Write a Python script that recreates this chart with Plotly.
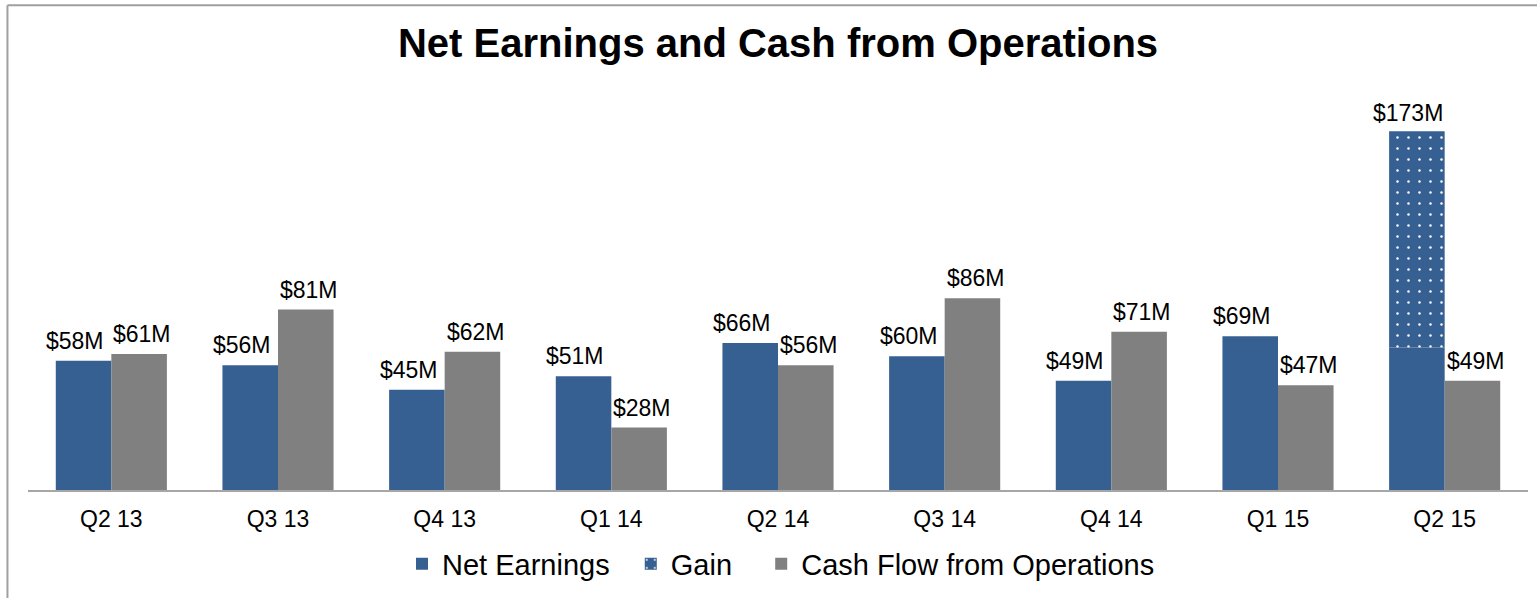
import plotly.graph_objects as go

# quarters on the category axis
quarters = ['Q2 13', 'Q3 13', 'Q4 13', 'Q1 14', 'Q2 14', 'Q3 14', 'Q4 14', 'Q1 15', 'Q2 15']

# $M (Q2 15 split)
net_earnings = [58, 56, 45, 51, 66, 60, 49, 69, 64]
gain = [None, None, None, None, None, None, None, None, 97]
cash_flow = [61, 81, 62, 28, 56, 86, 71, 47, 49]

net_labels = ['$58M', '$56M', '$45M', '$51M', '$66M', '$60M', '$49M', '$69M', '']
gain_labels = ['', '', '', '', '', '', '', '', '$173M']
cash_labels = ['$61M', '$81M', '$62M', '$28M', '$56M', '$86M', '$71M', '$47M', '$49M']

BLUE = '#376092'
GREY = '#808080'
FONT = 'Liberation Sans, Arial, sans-serif'
NB = '\u00a0'  # padding between legend entries

fig = go.Figure()
fig.add_bar(x=quarters, y=net_earnings, name='Net Earnings' + NB * 2, offsetgroup='ne',
            marker=dict(color=BLUE, line=dict(width=0)))
fig.add_bar(x=quarters, y=gain, base=net_earnings, name='Gain' + NB * 3, offsetgroup='ne',
            marker=dict(color=BLUE, line=dict(width=0),
                        pattern=dict(shape='.', fillmode='replace', bgcolor=BLUE,
                                     fgcolor='white', size=11, solidity=0.04)))
fig.add_bar(x=quarters, y=cash_flow, name='Cash Flow from Operations', offsetgroup='cf',
            marker=dict(color=GREY, line=dict(width=0)))
fig.update_traces(hoverinfo='skip')

# value labels over the bars (half a bar = 27.75px either side of the tick)
lbl_font = dict(family=FONT, size=23, color='black')
for i, q in enumerate(quarters):
    if net_labels[i]:
        fig.add_annotation(x=q, y=net_earnings[i], text=net_labels[i], showarrow=False,
                           xshift=-36, yshift=5, yanchor='bottom', font=lbl_font)
    if gain_labels[i]:
        fig.add_annotation(x=q, y=net_earnings[i] + gain[i], text=gain_labels[i], showarrow=False,
                           xshift=-37, yshift=3, yanchor='bottom', font=lbl_font)
    fig.add_annotation(x=q, y=cash_flow[i], text=cash_labels[i], showarrow=False,
                       xshift=31, yshift=5, yanchor='bottom', font=lbl_font)

fig.update_layout(
    width=1537, height=598,
    margin=dict(l=28, r=9, t=88, b=106),
    paper_bgcolor='white', plot_bgcolor='white',
    barmode='group', bargap=1/3, bargroupgap=0,
    font=dict(family=FONT, color='black'),
    title=dict(text='<b>Net Earnings and Cash from Operations</b>',
               font=dict(family=FONT, size=40, color='black'),
               x=0.5, xref='paper', xanchor='center',
               y=1 - 43 / 598, yref='container', yanchor='middle'),
    legend=dict(orientation='h', x=0.502, xanchor='center', y=-0.184, yanchor='middle',
                font=dict(family=FONT, size=29, color='black'),
                traceorder='normal', itemwidth=30),
    showlegend=True,
)
fig.update_xaxes(showline=True, linecolor='#a6a6a6', linewidth=2, ticks='',
                 tickfont=dict(family=FONT, size=23, color='black'),
                 ticklabelstandoff=7, showgrid=False, zeroline=False)
fig.update_yaxes(visible=False, range=[0, 180.4], showgrid=False, zeroline=False)

# chart frame: left and top edges only
frame = dict(type='line', xref='paper', yref='paper', line=dict(color='#a0a0a0', width=2))
fig.add_shape(frame, x0=-0.0137, x1=-0.0137, y0=-0.27, y1=1.2058)
fig.add_shape(frame, x0=-0.0137, x1=1.01, y0=1.2058, y1=1.2058)

fig.write_html('out.html', config={'displayModeBar': False},
               post_script="document.body.style.margin='0';")
